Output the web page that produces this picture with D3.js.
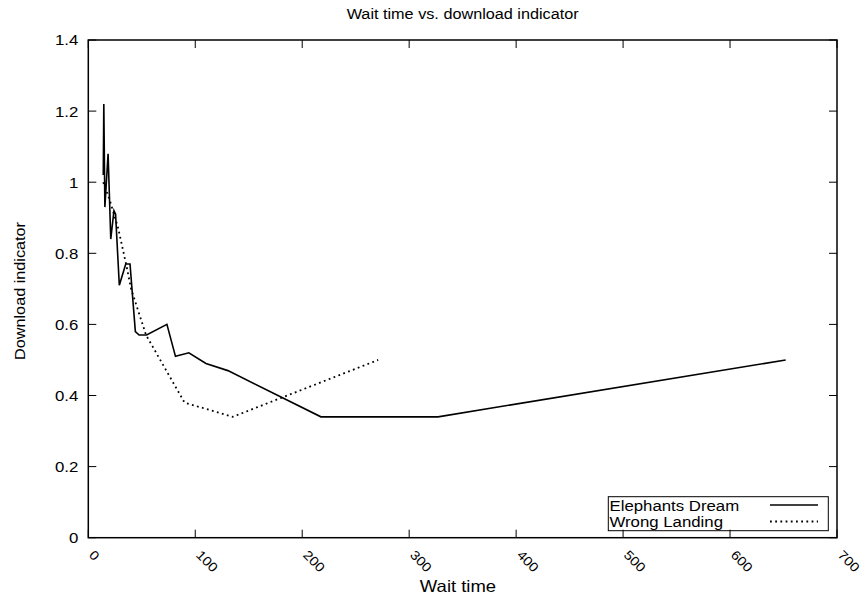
<!DOCTYPE html>
<html>
<head>
<meta charset="utf-8">
<script src="https://cdn.jsdelivr.net/npm/d3@7"></script>
<style>
  html, body { margin: 0; padding: 0; background: #fff; }
  text { font-family: "Liberation Sans", Arial, Helvetica, sans-serif; fill: #000; }
</style>
</head>
<body>
<svg id="chart" width="865" height="599"></svg>
<script>
// Wait time (x) and download indicator (y) per stream
const elephantsWait = [14, 14.5, 15.5, 18.5, 21, 24, 25.5, 29, 35, 39, 44, 47.5, 54.5, 73.5, 81.5, 94, 110, 130.5, 217.5, 327, 652];
const elephantsIndicator = [1.02, 1.22, 0.93, 1.08, 0.84, 0.92, 0.91, 0.71, 0.77, 0.77, 0.58, 0.57, 0.57, 0.60, 0.51, 0.52, 0.49, 0.47, 0.34, 0.34, 0.50];
const landingWait = [14, 20, 28, 36, 40, 54, 90, 135, 271];
const landingIndicator = [1.0, 0.95, 0.87, 0.76, 0.70, 0.57, 0.38, 0.34, 0.50];

const xTicks = [0, 100, 200, 300, 400, 500, 600, 700];
const yTicks = [0, 0.2, 0.4, 0.6, 0.8, 1.0, 1.2, 1.4];
const seriesNames = ["Elephants Dream", "Wrong Landing"];

(function () {
  const svg = d3.select("#chart");
  const plotLeft = 88.3, plotRight = 837, plotTop = 40, plotBottom = 537.7;
  const WIDEN = 1.12; // the label face runs a little wider than Liberation Sans

  const x = d3.scaleLinear().domain([0, 700]).range([plotLeft, plotRight]);
  const y = d3.scaleLinear().domain([0, 1.4]).range([plotBottom, plotTop]);

  // Text placed at (px, py), optionally rotated, widened along its own baseline
  function label(parent, px, py, str, opts) {
    const o = Object.assign({ rotate: 0, anchor: "start", size: 15, dy: null }, opts);
    const t = parent.append("text")
      .attr("transform", `translate(${px},${py}) rotate(${o.rotate}) scale(${WIDEN},1)`)
      .attr("text-anchor", o.anchor)
      .attr("font-size", o.size)
      .text(str);
    if (o.dy) t.attr("dy", o.dy);
    return t;
  }

  const tickLen = 8;
  const fmtY = v => (v === 0 ? "0" : (Number.isInteger(v) ? String(v) : d3.format(".1f")(v)));

  // Ticks (inward, mirrored on opposite sides)
  const ticks = svg.append("g").attr("stroke", "#000").attr("stroke-width", 1);
  xTicks.forEach(t => {
    ticks.append("line").attr("x1", x(t)).attr("x2", x(t)).attr("y1", plotBottom).attr("y2", plotBottom - tickLen);
    ticks.append("line").attr("x1", x(t)).attr("x2", x(t)).attr("y1", plotTop).attr("y2", plotTop + tickLen);
  });
  yTicks.forEach(t => {
    ticks.append("line").attr("x1", plotLeft).attr("x2", plotLeft + tickLen).attr("y1", y(t)).attr("y2", y(t));
    ticks.append("line").attr("x1", plotRight).attr("x2", plotRight - tickLen).attr("y1", y(t)).attr("y2", y(t));
  });

  // Frame
  svg.append("rect")
    .attr("x", plotLeft).attr("y", plotTop)
    .attr("width", plotRight - plotLeft).attr("height", plotBottom - plotTop)
    .attr("fill", "none").attr("stroke", "#000").attr("stroke-width", 1.5);

  // Y tick labels
  const yl = svg.append("g");
  yTicks.forEach(t => label(yl, plotLeft - 10, y(t), fmtY(t), { anchor: "end", size: 15, dy: "0.36em" }));

  // X tick labels, rotated
  const xl = svg.append("g");
  xTicks.forEach(t => label(xl, x(t), plotBottom + 18, String(t), { rotate: 45, size: 13 }));

  // Titles
  label(svg, (plotLeft + plotRight) / 2, 19, "Wait time vs. download indicator", { anchor: "middle", size: 14.5 });
  label(svg, 458, 591.5, "Wait time", { anchor: "middle", size: 16.5 });
  label(svg, 25, 291, "Download indicator", { anchor: "middle", size: 14.5, rotate: -90 });

  // Series lines
  const line = d3.line().x(d => x(d[0])).y(d => y(d[1]));
  const elephants = d3.zip(elephantsWait, elephantsIndicator);
  const landing = d3.zip(landingWait, landingIndicator);

  svg.append("path").datum(elephants).attr("d", line)
    .attr("fill", "none").attr("stroke", "#000").attr("stroke-width", 1.6)
    .attr("stroke-linejoin", "miter");
  svg.append("path").datum(landing).attr("d", line)
    .attr("fill", "none").attr("stroke", "#000").attr("stroke-width", 1.8)
    .attr("stroke-dasharray", "1.8,3.4");

  // Legend
  const lg = svg.append("g");
  lg.append("rect").attr("x", 608.3).attr("y", 496.7).attr("width", 220).attr("height", 34)
    .attr("fill", "none").attr("stroke", "#000").attr("stroke-width", 1);
  const styles = [{ dash: null, w: 1.6 }, { dash: "1.8,3.4", w: 1.8 }];
  seriesNames.forEach((name, i) => {
    const base = 510.7 + i * 16;
    label(lg, 609.5, base, name, { size: 15 });
    const ly = 505 + i * 16.5;
    lg.append("line").attr("x1", 770).attr("x2", 818).attr("y1", ly).attr("y2", ly)
      .attr("stroke", "#000").attr("stroke-width", styles[i].w)
      .attr("stroke-dasharray", styles[i].dash);
  });
})();
</script>
</body>
</html>
